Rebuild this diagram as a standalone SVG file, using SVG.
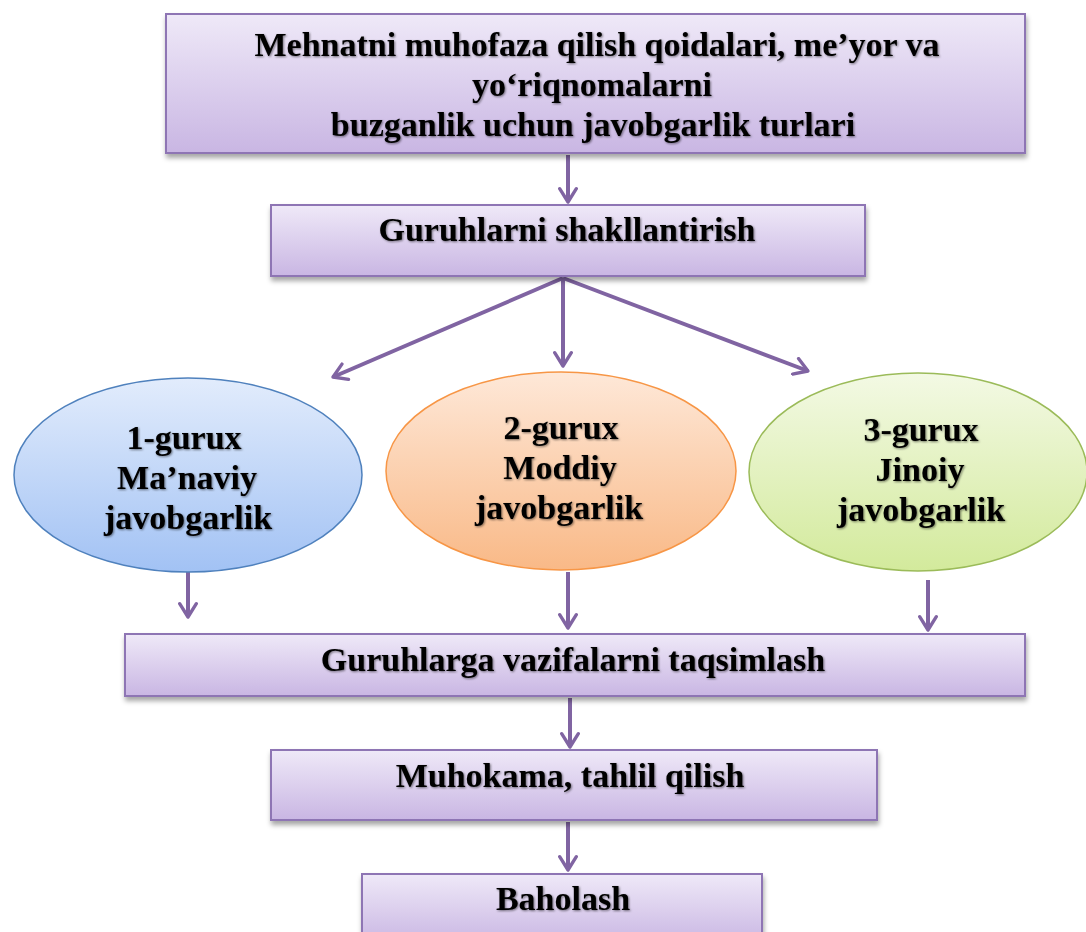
<svg xmlns="http://www.w3.org/2000/svg" width="1086" height="932" viewBox="0 0 1086 932">
<defs>
<linearGradient id="gBox" x1="0" y1="0" x2="0" y2="1">
<stop offset="0" stop-color="#efe9f8"/>
<stop offset="1" stop-color="#c9b6e3"/>
</linearGradient>
<linearGradient id="gBlue" x1="0" y1="0" x2="0" y2="1">
<stop offset="0" stop-color="#e2ecfc"/>
<stop offset="1" stop-color="#a2c2f4"/>
</linearGradient>
<linearGradient id="gOrange" x1="0" y1="0" x2="0" y2="1">
<stop offset="0" stop-color="#fee8d8"/>
<stop offset="1" stop-color="#f9b987"/>
</linearGradient>
<linearGradient id="gGreen" x1="0" y1="0" x2="0" y2="1">
<stop offset="0" stop-color="#f3f9e4"/>
<stop offset="1" stop-color="#d3ea9c"/>
</linearGradient>
<filter id="sh" x="-5%" y="-10%" width="110%" height="130%">
<feDropShadow dx="1" dy="4" stdDeviation="2.5" flood-color="#000" flood-opacity="0.35"/>
</filter>
<filter id="tsh" x="-5%" y="-20%" width="110%" height="140%">
<feDropShadow dx="1" dy="1" stdDeviation="0.9" flood-color="#000" flood-opacity="0.5"/>
</filter>
<marker id="arr" viewBox="0 0 12 12" refX="10" refY="6" markerWidth="5" markerHeight="5" orient="auto" markerUnits="strokeWidth">
<path d="M2,1 L10,6 L2,11" fill="none" stroke="#8064a2" stroke-width="2" stroke-linecap="round" stroke-linejoin="round"/>
</marker>
<style>
.box{fill:url(#gBox);stroke:#8e74b4;stroke-width:2;filter:url(#sh);}
.t{font-family:"Liberation Serif","Times New Roman",serif;font-weight:bold;font-size:34px;fill:#000;text-anchor:middle;filter:url(#tsh);}
.c{fill:none;stroke:#8064a2;stroke-width:4;marker-end:url(#arr);}
</style>
</defs>
<g id="connectors">
<line class="c" x1="568" y1="155" x2="568" y2="202"/>
<line class="c" x1="563" y1="278" x2="333" y2="377"/>
<line class="c" x1="563" y1="278" x2="563" y2="366"/>
<line class="c" x1="563" y1="278" x2="808" y2="371"/>
<line class="c" x1="188" y1="570" x2="188" y2="617"/>
<line class="c" x1="568" y1="572" x2="568" y2="628"/>
<line class="c" x1="928" y1="580" x2="928" y2="630"/>
<line class="c" x1="570" y1="698" x2="570" y2="747"/>
<line class="c" x1="568" y1="822" x2="568" y2="870"/>
</g>
<g id="n-top">
<rect class="box" x="166" y="14" width="859" height="139"/>
<text class="t" x="597" y="56">Mehnatni muhofaza qilish qoidalari, me’yor va</text>
<text class="t" x="592" y="96">yo‘riqnomalarni</text>
<text class="t" x="593" y="136">buzganlik uchun javobgarlik turlari</text>
</g>
<g id="n-groups">
<rect class="box" x="271" y="205" width="594" height="71"/>
<text class="t" x="567" y="241">Guruhlarni shakllantirish</text>
</g>
<g id="n-g1">
<ellipse cx="188" cy="475" rx="174" ry="97" fill="url(#gBlue)" stroke="#4f81bd" stroke-width="1.5"/>
<text class="t" x="184" y="449">1-gurux</text>
<text class="t" x="187" y="489">Ma’naviy</text>
<text class="t" x="188" y="529">javobgarlik</text>
</g>
<g id="n-g2">
<ellipse cx="561" cy="471" rx="175" ry="99" fill="url(#gOrange)" stroke="#f79646" stroke-width="1.5"/>
<text class="t" x="561" y="439">2-gurux</text>
<text class="t" x="560" y="479">Moddiy</text>
<text class="t" x="559" y="519">javobgarlik</text>
</g>
<g id="n-g3">
<ellipse cx="918" cy="472" rx="169" ry="99" fill="url(#gGreen)" stroke="#9bbb59" stroke-width="1.5"/>
<text class="t" x="921" y="441">3-gurux</text>
<text class="t" x="920" y="481">Jinoiy</text>
<text class="t" x="921" y="521">javobgarlik</text>
</g>
<g id="n-tasks">
<rect class="box" x="125" y="634" width="900" height="62"/>
<text class="t" x="573" y="671">Guruhlarga vazifalarni taqsimlash</text>
</g>
<g id="n-discuss">
<rect class="box" x="271" y="750" width="606" height="70"/>
<text class="t" x="570" y="787">Muhokama, tahlil qilish</text>
</g>
<g id="n-eval">
<rect class="box" x="362" y="874" width="400" height="70"/>
<text class="t" x="563" y="910">Baholash</text>
</g>
</svg>
